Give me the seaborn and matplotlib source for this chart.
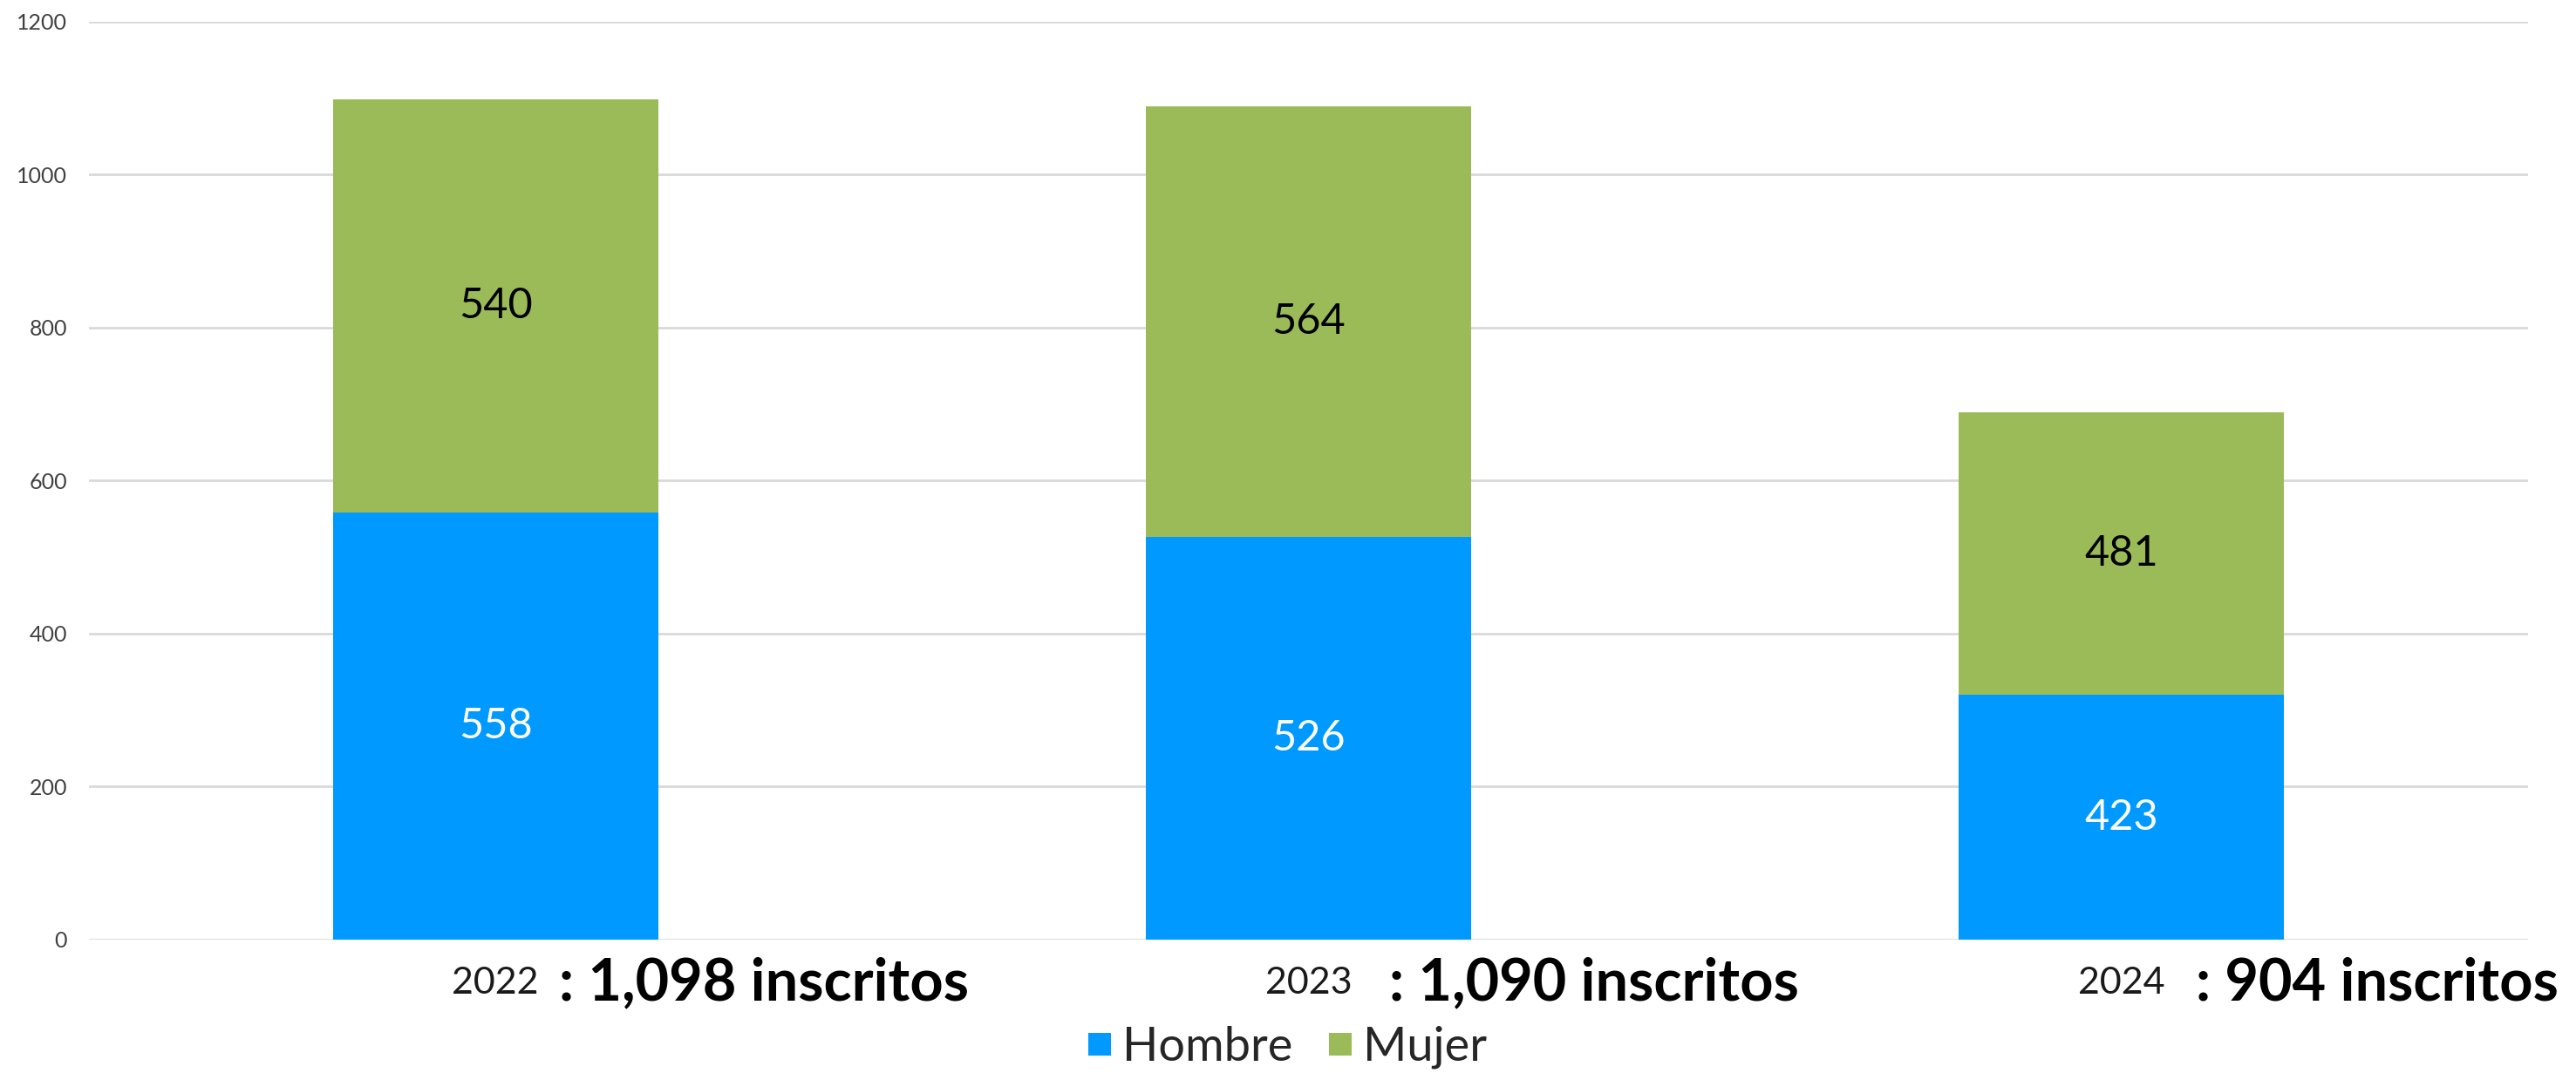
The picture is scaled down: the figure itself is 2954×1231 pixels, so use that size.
import matplotlib
matplotlib.use("Agg")
import matplotlib.pyplot as plt
from matplotlib.lines import Line2D
import matplotlib.transforms as mtransforms
import seaborn as sns
import pandas as pd

# ---- data ----
years = ["2022", "2023", "2024"]
hombre_heights = [558, 526, 320]
mujer_heights = [540, 564, 370]
hombre_labels = ["558", "526", "423"]
mujer_labels = ["540", "564", "481"]
total_labels = ["1,098", "1,090", "904"]
series_names = ["Hombre", "Mujer"]
yticks = [0, 200, 400, 600, 800, 1000, 1200]

BLUE = "#0099FF"
GREEN = "#9BBB59"
GRID = "#D9D9D9"

sns.set_theme(style="white")
plt.rcParams["font.family"] = ["Lato", "DejaVu Sans"]

fig = plt.figure(figsize=(29.54, 12.31), dpi=100)
ax = fig.add_axes([0.03453, 0.1243, 0.9814 - 0.03453, 0.9797 - 0.1243])

df = pd.DataFrame({
    "year": years,
    "hombre": hombre_heights,
    "top": [h + m for h, m in zip(hombre_heights, mujer_heights)],
})

sns.barplot(data=df, x="year", y="top", color=GREEN, saturation=1,
            width=0.4, ax=ax, linewidth=0, zorder=3)
sns.barplot(data=df, x="year", y="hombre", color=BLUE, saturation=1,
            width=0.4, ax=ax, linewidth=0, zorder=4)

ax.set_xlim(-0.5, 2.5)
ax.set_ylim(0, 1200)
ax.set_yticks(yticks)
ax.set_yticklabels([str(t) for t in yticks], fontsize=18, color="#404040",
                   fontweight="normal")
ax.yaxis.grid(True, color=GRID, linewidth=2, zorder=0)
ax.set_axisbelow(True)
for s in ax.spines.values():
    s.set_visible(False)
ax.tick_params(axis="y", length=0, pad=18)
ax.tick_params(axis="x", length=0, pad=22)
ax.set_xlabel("")
ax.set_ylabel("")
ax.set_xticks(range(len(years)))
ax.set_xticklabels(years, fontsize=31, fontweight="normal", color="#1a1a1a")

# segment labels
for i in range(len(years)):
    h = hombre_heights[i]
    m = mujer_heights[i]
    ax.text(i, h / 2, hombre_labels[i], ha="center", va="center",
            fontsize=35, color="white", fontweight="normal", zorder=6)
    ax.text(i, h + m / 2, mujer_labels[i], ha="center", va="center",
            fontsize=35, color="black", fontweight="normal", zorder=6)

# totals next to year labels
offsets = [0.078, 0.099, 0.091]
trans = mtransforms.blended_transform_factory(ax.transData, ax.transAxes)
for i in range(len(years)):
    ax.text(i + offsets[i], -0.066, ": " + total_labels[i] + " inscritos",
            transform=trans, ha="left", va="baseline",
            fontsize=48, fontweight="bold", color="black", clip_on=False)

handles = [Line2D([0], [0], marker="s", linestyle="none", markersize=19,
                  markerfacecolor=c, markeredgewidth=0)
           for c in (BLUE, GREEN)]
fig.legend(handles, series_names, loc="center", bbox_to_anchor=(0.4995, 0.024),
           ncol=2, frameon=False, handlelength=0.55, handletextpad=0.2,
           columnspacing=0.75, prop={"weight": "normal", "size": 39})

fig.savefig("out.png", dpi=100, facecolor="white")
